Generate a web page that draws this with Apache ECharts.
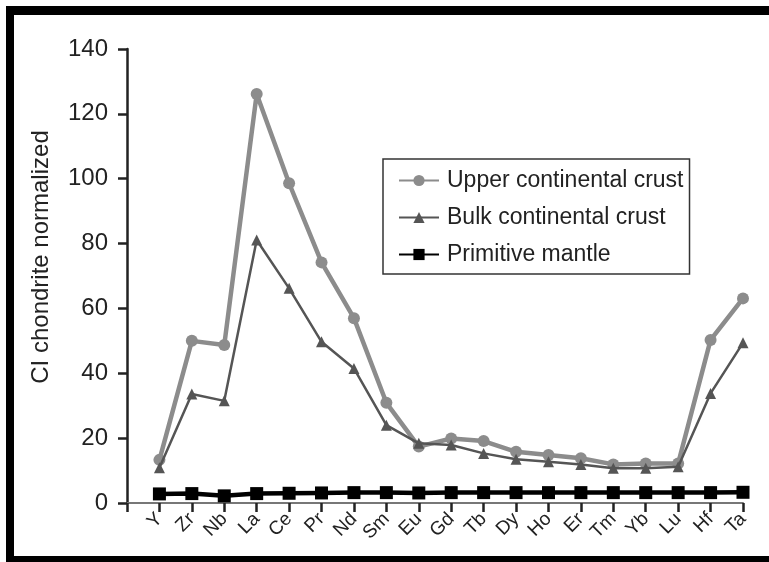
<!DOCTYPE html>
<html>
<head>
<meta charset="utf-8">
<script src="https://cdn.jsdelivr.net/npm/echarts@6/dist/echarts.min.js"></script>
<style>
  html, body { margin: 0; padding: 0; background: #fff; }
  #main { width: 769px; height: 562px; }
</style>
</head>
<body>
<div id="main"></div>
<script>
// element order along the x axis
const elements = ['Y', 'Zr', 'Nb', 'La', 'Ce', 'Pr', 'Nd', 'Sm', 'Eu', 'Gd', 'Tb', 'Dy', 'Ho', 'Er', 'Tm', 'Yb', 'Lu', 'Hf', 'Ta']
// CI chondrite normalized values
const upperCrust = [13.3, 50, 48.7, 126.1, 98.6, 74.2, 57, 30.9, 17.4, 19.9, 19.1, 15.8, 14.8, 13.8, 11.9, 12.2, 12.2, 50.3, 63.1]
const bulkCrust = [10.9, 33.6, 31.5, 81.1, 66.2, 49.7, 41.5, 24, 18.4, 17.9, 15.3, 13.5, 12.7, 11.9, 10.7, 10.7, 11.2, 33.8, 49.4]
const primitiveMantle = [2.8, 2.9, 2.2, 2.9, 3.0, 3.1, 3.2, 3.2, 3.1, 3.2, 3.2, 3.2, 3.2, 3.2, 3.2, 3.2, 3.2, 3.2, 3.3]
const yTicks = [0, 20, 40, 60, 80, 100, 120, 140]

const FONT = '"Liberation Sans", Arial, Helvetica, sans-serif'

const chart = echarts.init(document.getElementById('main'))

/** turn a value list into [index, value] points */
function toPoints(list) {
  return list.map((v, i) => [i, v])
}

const option = {
  animation: false,
  backgroundColor: '#fff',
  textStyle: { fontFamily: FONT },
  // black frame round the figure
  graphic: [
    { type: 'rect', shape: { x: 6, y: 6, width: 763, height: 9 }, style: { fill: '#000' } },
    { type: 'rect', shape: { x: 6, y: 6, width: 8, height: 556 }, style: { fill: '#000' } },
    { type: 'rect', shape: { x: 6, y: 556, width: 763, height: 6 }, style: { fill: '#000' } }
  ],
  grid: {
    left: 127,
    right: 26,
    top: 49,
    bottom: 59,
    containLabel: false
  },
  legend: {
    orient: 'vertical',
    left: 383,
    top: 159,
    padding: [10, 6, 8, 15],
    itemWidth: 40,
    itemHeight: 14,
    itemGap: 14,
    borderColor: '#333',
    borderWidth: 1.5,
    textStyle: {
      fontFamily: FONT,
      fontSize: 23,
      lineHeight: 22,
      color: '#222',
      padding: [0, 0, 0, 3]
    },
    data: ['Upper continental crust', 'Bulk continental crust', 'Primitive mantle']
  },
  xAxis: {
    type: 'value',
    min: -1,
    max: elements.length - 1,
    interval: 1,
    axisLine: { onZero: false, lineStyle: { color: '#777', width: 2 } },
    axisTick: { length: 9, lineStyle: { color: '#222', width: 2.5 } },
    splitLine: { show: false },
    axisLabel: {
      rotate: 45,
      margin: 13,
      fontSize: 19,
      color: '#222',
      fontFamily: FONT,
      formatter: v => elements[v] || ''
    }
  },
  yAxis: {
    type: 'value',
    min: yTicks[0],
    max: yTicks[yTicks.length - 1],
    interval: 20,
    name: 'CI chondrite normalized',
    nameLocation: 'middle',
    nameGap: 74,
    nameTextStyle: {
      fontFamily: FONT,
      fontSize: 24,
      color: '#222',
      padding: [0, 0, 0, 38]
    },
    axisLine: { show: true, onZero: false, lineStyle: { color: '#222', width: 2.5 } },
    axisTick: { show: true, length: 9, lineStyle: { color: '#222', width: 2.5 } },
    splitLine: { show: false },
    axisLabel: {
      margin: 19,
      fontSize: 24,
      color: '#222',
      fontFamily: FONT
    }
  },
  series: [
    {
      name: 'Upper continental crust',
      type: 'line',
      data: toPoints(upperCrust),
      symbol: 'circle',
      symbolSize: 12,
      z: 3,
      itemStyle: { color: '#8c8c8c' },
      lineStyle: { color: '#8c8c8c', width: 4.5 }
    },
    {
      name: 'Bulk continental crust',
      type: 'line',
      data: toPoints(bulkCrust),
      symbol: 'triangle',
      symbolSize: 11,
      z: 4,
      itemStyle: { color: '#555' },
      lineStyle: { color: '#555', width: 2.5 }
    },
    {
      name: 'Primitive mantle',
      type: 'line',
      data: toPoints(primitiveMantle),
      symbol: 'rect',
      symbolSize: 13,
      z: 5,
      itemStyle: { color: '#000' },
      lineStyle: { color: '#000', width: 4.5 }
    }
  ]
}

chart.setOption(option)
</script>
</body>
</html>
